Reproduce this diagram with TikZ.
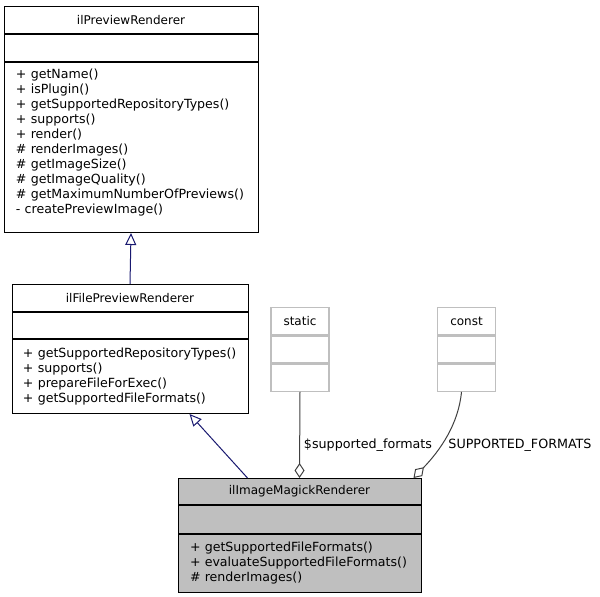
\documentclass[tikz,border=0pt]{standalone}
\usepackage{fontspec}
\setmainfont{DejaVu Sans}
\usepackage{tikz}
\usetikzlibrary{arrows.meta,calc}
\definecolor{umlnavy}{HTML}{191970}
\definecolor{umlgray}{HTML}{404040}
\definecolor{umllight}{HTML}{BFBFBF}

\begin{document}
\begin{tikzpicture}[x=1pt,y=-1pt,
  cls/.style={draw=black,fill=white,line width=1pt,anchor=north,inner sep=0pt,font=\fontsize{12}{15}\selectfont},
  head/.style={cls,minimum height=27pt},
  ops/.style={cls,align=left,inner xsep=11pt,font=\fontsize{12.6}{15}\selectfont},
  ghost/.style={head,draw=umllight,line width=1.3pt,minimum width=58pt},
  inherit/.style={-{Triangle[open,length=12pt,width=11pt]},line width=1pt,draw=umlnavy},
  aggr/.style={-{Diamond[open,length=15pt,width=10pt]},line width=1pt,draw=umlgray},
  lbl/.style={font=\fontsize{12.7}{15}\selectfont,inner sep=1pt}
]
\useasboundingbox (0,0) rectangle (600,597);
\node[head,minimum width=254pt] (pr) at (131,6) {ilPreviewRenderer};
\node[head,minimum width=254pt] (pr-a) at (pr.south) {};
\node[ops,inner xsep=12pt,text width=230pt,minimum height=170pt] (pr-m) at (pr-a.south) {+ getName()\\+ isPlugin()\\+ getSupportedRepositoryTypes()\\+ supports()\\+ render()\\\# renderImages()\\\# getImageSize()\\\# getImageQuality()\\\# getMaximumNumberOfPreviews()\\- createPreviewImage()\rule[-12pt]{0pt}{12pt}};
\node[head,minimum width=236pt] (fpr) at (130,284) {ilFilePreviewRenderer};
\node[head,minimum height=26pt,minimum width=236pt] (fpr-a) at (fpr.south) {};
\node[ops,text width=214pt,minimum height=74pt] (fpr-m) at (fpr-a.south) {+ getSupportedRepositoryTypes()\\+ supports()\\+ prepareFileForExec()\\+ getSupportedFileFormats()};
\node[ghost] (st) at (300,307) {static};
\node[ghost] (st-a) at (st.south) {};
\node[ghost] (st-b) at (st-a.south) {};
\node[ghost] (cn) at (466.5,307) {const};
\node[ghost] (cn-a) at (cn.south) {};
\node[ghost] (cn-b) at (cn-a.south) {};
\node[head,fill=umllight,minimum height=26pt,minimum width=243pt] (imr) at (299.5,478) {ilImageMagickRenderer};
\node[head,fill=umllight,minimum height=28pt,minimum width=243pt] (imr-a) at (imr.south) {};
\node[ops,fill=umllight,inner xsep=12pt,text width=219pt,minimum height=58pt] (imr-m) at (imr-a.south) {+ getSupportedFileFormats()\\+ evaluateSupportedFileFormats()\\\# renderImages()};
\draw[inherit] (fpr.north) -- (pr-m.south);
\draw[inherit] ([xshift=70pt]imr.north west) -- ([xshift=178pt]fpr-m.south west);
\draw[aggr] (st-b.south) -- (imr.north);
\draw[aggr] ([xshift=-5pt]cn-b.south) .. controls +(-3,32) and +(27,-28) .. ([xshift=-8pt]imr.north east);
\node[lbl] (l-st) at (368,445) {\$supported\_formats};
\node[lbl] (l-cn) at (520,445) {SUPPORTED\_FORMATS};
\end{tikzpicture}
\end{document}
